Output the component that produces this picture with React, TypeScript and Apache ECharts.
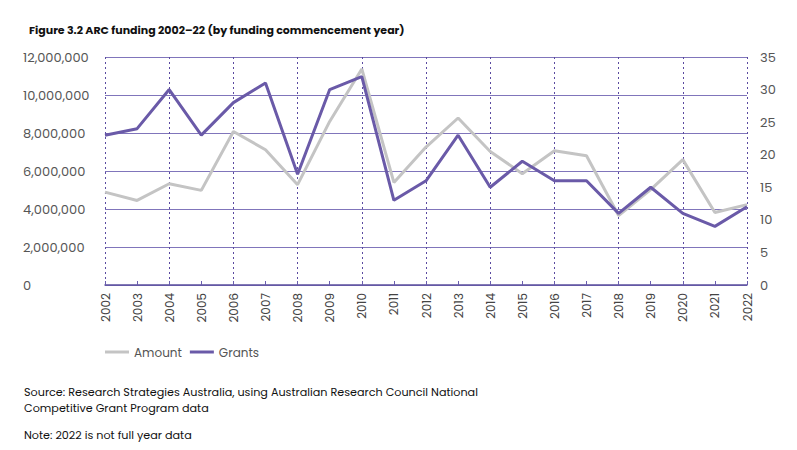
import React, { useEffect, useRef } from "react";
import * as echarts from "echarts";

const years = ["2002","2003","2004","2005","2006","2007","2008","2009","2010","2011","2012","2013","2014","2015","2016","2017","2018","2019","2020","2021","2022"];
const amount = [4890000,4450000,5330000,4980000,8080000,7120000,5280000,8610000,11370000,5400000,7260000,8790000,7030000,5860000,7070000,6800000,3660000,5020000,6600000,3820000,4230000];
const grants = [23,24,30,23,28,31,17,30,32,13,16,23,15,19,16,16,11,15,11,9,12];

const titleText = "Figure 3.2 ARC funding 2002–22 (by funding commencement year)";
const sourceLine1 = "Source: Research Strategies Australia, using Australian Research Council National";
const sourceLine2 = "Competitive Grant Program data";
const noteText = "Note: 2022 is not full year data";

const FONT = "Poppins, 'Noto Sans', 'Open Sans', sans-serif";

export default function App() {
  const ref = useRef<HTMLDivElement>(null);
  useEffect(() => {
    if (!ref.current) return;
    const chart = echarts.init(ref.current, undefined, { renderer: "svg" });
    chart.setOption({
      animation: false,
      backgroundColor: "#ffffff",
      title: {
        text: titleText,
        left: 24,
        top: 19,
        textStyle: { fontFamily: FONT, fontSize: 11, fontWeight: "bold", color: "#111111" },
      },
      legend: {
        data: ["Amount", "Grants"],
        left: 100,
        top: 341,
        itemWidth: 24,
        itemHeight: 3,
        itemGap: 8,
        icon: "rect",
        textStyle: { fontFamily: FONT, fontSize: 12, color: "#555555" },
      },
      grid: { left: 105, right: 50, top: 57, bottom: 165 },
      xAxis: {
        type: "category",
        data: years,
        boundaryGap: false,
        axisLine: { show: true, lineStyle: { color: "#5b4f9e", width: 1.5 } },
        axisTick: { show: true, inside: true, length: 4, alignWithLabel: true, lineStyle: { color: "#6a5eae" } },
        axisLabel: { rotate: 90, margin: 8, fontFamily: FONT, fontSize: 12, color: "#444444", interval: 0 },
        splitLine: { show: true, interval: 1, lineStyle: { type: [2, 3], color: "#5a4aa0", width: 1 } },
      },
      yAxis: [
        {
          type: "value",
          min: 0,
          max: 12000000,
          interval: 2000000,
          axisLine: { show: false },
          axisTick: { show: false },
          axisLabel: {
            align: "left",
            margin: 82,
            fontFamily: FONT,
            fontSize: 13,
            color: "#555555",
            formatter: (v: number) => v.toLocaleString("en-US"),
          },
          splitLine: { show: true, lineStyle: { color: "#8075bb", width: 1.2 } },
        },
        {
          type: "value",
          min: 0,
          max: 35,
          interval: 5,
          axisLine: { show: false },
          axisTick: { show: false },
          axisLabel: { align: "left", margin: 13, fontFamily: FONT, fontSize: 13, color: "#555555" },
          splitLine: { show: false },
        },
      ],
      series: [
        {
          name: "Amount",
          type: "line",
          data: amount,
          yAxisIndex: 0,
          symbol: "none",
          lineStyle: { color: "#c4c4c4", width: 3 },
          itemStyle: { color: "#c4c4c4" },
        },
        {
          name: "Grants",
          type: "line",
          data: grants,
          yAxisIndex: 1,
          symbol: "none",
          lineStyle: { color: "#6a5aa8", width: 3 },
          itemStyle: { color: "#6a5aa8" },
        },
      ],
      graphic: [
        { type: "text", left: 24, top: 386, style: { text: sourceLine1, fontFamily: FONT, fontSize: 11.2, fill: "#111111" } },
        { type: "text", left: 24, top: 402, style: { text: sourceLine2, fontFamily: FONT, fontSize: 11.2, fill: "#111111" } },
        { type: "text", left: 24, top: 429, style: { text: noteText, fontFamily: FONT, fontSize: 11.2, fill: "#111111" } },
      ],
    });
    return () => chart.dispose();
  }, []);
  return <div ref={ref} style={{ position: "fixed", left: 0, top: 0, width: 797, height: 450 }} />;
}
